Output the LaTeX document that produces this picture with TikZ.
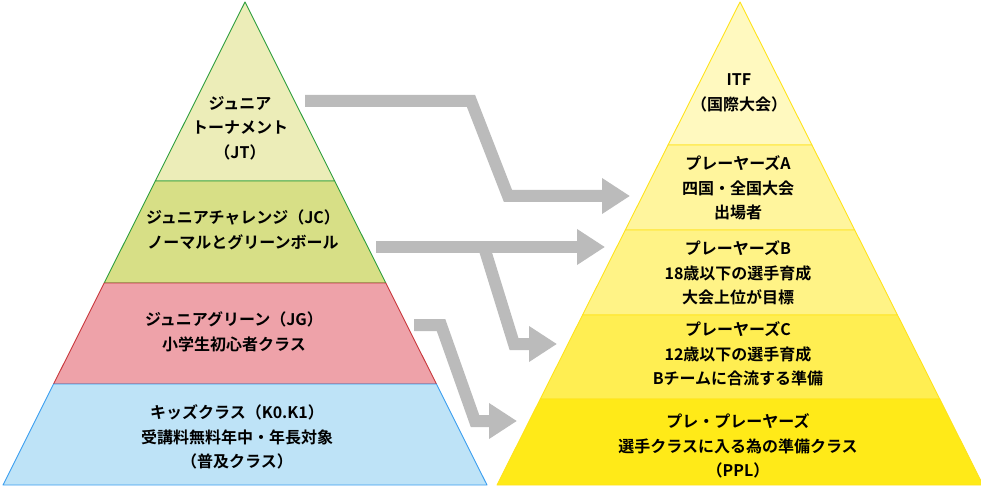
\documentclass[tikz,border=0pt]{standalone}
\usepackage{fontspec}
\usetikzlibrary{arrows.meta,calc}
\newfontfamily\jpfont{Noto Sans CJK JP Bold}
\definecolor{jtfill}{HTML}{ECEDB8}
\definecolor{jcfill}{HTML}{D7DF86}
\definecolor{jgfill}{HTML}{EEA2A9}
\definecolor{kdfill}{HTML}{BEE3F7}
\definecolor{grline}{HTML}{2E9E3E}
\definecolor{rdline}{HTML}{C8383C}
\definecolor{blline}{HTML}{3A9EF0}
\definecolor{itffill}{HTML}{FFF9BF}
\definecolor{pafill}{HTML}{FFF59D}
\definecolor{pbfill}{HTML}{FFF386}
\definecolor{pcfill}{HTML}{FFEE52}
\definecolor{pplfill}{HTML}{FFEA18}
\definecolor{ylline}{HTML}{FFE31A}
\definecolor{flowgray}{HTML}{BBBBBB}

\begin{document}
\begin{tikzpicture}[x=1pt, y=-1pt,
    layer/.style={line width=0.9pt, line join=round},
    lbl/.style={font=\jpfont\fontsize{16}{24.5}\selectfont, align=center, inner sep=0pt},
    flow/.style={draw=flowgray, line width=12pt, -{Triangle[length=28pt,width=34pt]}}]
    \useasboundingbox (0,0) rectangle (981,486);

    % left pyramid
    \coordinate (la) at (245,2);
    \coordinate (ll) at (3,485);
    \coordinate (lr) at (487,485);
    \draw[layer, draw=grline, fill=jtfill] (la) -- ($(la)!0.3706!(ll)$) -- ($(la)!0.3706!(lr)$) -- cycle;
    \draw[layer, draw=grline, fill=jcfill] ($(la)!0.3706!(ll)$) -- ($(la)!0.5818!(ll)$) -- ($(la)!0.5818!(lr)$) -- ($(la)!0.3706!(lr)$) -- cycle;
    \draw[layer, draw=rdline, fill=jgfill] ($(la)!0.5818!(ll)$) -- ($(la)!0.7909!(ll)$) -- ($(la)!0.7909!(lr)$) -- ($(la)!0.5818!(lr)$) -- cycle;
    \draw[layer, draw=blline, fill=kdfill] ($(la)!0.7909!(ll)$) -- (ll) -- (lr) -- ($(la)!0.7909!(lr)$) -- cycle;

    % right pyramid
    \coordinate (ra) at (740,2);
    \coordinate (rl) at (497,485);
    \coordinate (rr) at (983,485);
    \draw[layer, draw=ylline, fill=itffill] (ra) -- ($(ra)!0.296!(rl)$) -- ($(ra)!0.296!(rr)$) -- cycle;
    \draw[layer, draw=ylline, fill=pafill] ($(ra)!0.296!(rl)$) -- ($(ra)!0.472!(rl)$) -- ($(ra)!0.472!(rr)$) -- ($(ra)!0.296!(rr)$) -- cycle;
    \draw[layer, draw=ylline, fill=pbfill] ($(ra)!0.472!(rl)$) -- ($(ra)!0.648!(rl)$) -- ($(ra)!0.648!(rr)$) -- ($(ra)!0.472!(rr)$) -- cycle;
    \draw[layer, draw=ylline, fill=pcfill] ($(ra)!0.648!(rl)$) -- ($(ra)!0.822!(rl)$) -- ($(ra)!0.822!(rr)$) -- ($(ra)!0.648!(rr)$) -- cycle;
    \draw[layer, draw=ylline, fill=pplfill] ($(ra)!0.822!(rl)$) -- (rl) -- (rr) -- ($(ra)!0.822!(rr)$) -- cycle;

    % labels
    \node[lbl] (jt) at (240,128) {ジュニア\\トーナメント\\（JT）};
    \node[lbl] (jc) at (243,230) {ジュニアチャレンジ（JC）\\ノーマルとグリーンボール};
    \node[lbl] (jg) at (234,332) {ジュニアグリーン（JG）\\小学生初心者クラス};
    \node[lbl] (kids) at (237,437) {キッズクラス（K0.K1）\\受講料無料年中・年長対象\\（普及クラス）};
    \node[lbl] (itf) at (739,93) {ITF\\（国際大会）};
    \node[lbl] (pa) at (738,188) {プレーヤーズA\\四国・全国大会\\出場者};
    \node[lbl] (pb) at (738,273) {プレーヤーズB\\18歳以下の選手育成\\大会上位が目標};
    \node[lbl] (pc) at (738,354) {プレーヤーズC\\12歳以下の選手育成\\Bチームに合流する準備};
    \node[lbl] (ppl) at (738,446) {プレ・プレーヤーズ\\選手クラスに入る為の準備クラス\\（PPL）};

    % arrow ends
    \coordinate (jt-out) at (305,101);
    \coordinate (pa-in) at (630,196);
    \coordinate (jc-out) at (376,247);
    \coordinate (pb-in) at (605,247);
    \coordinate (jc-split) at (484,247);
    \coordinate (pc-in) at (557,344);
    \coordinate (jg-out) at (414,325);
    \coordinate (ppl-in) at (517,421);

    \draw[flow] (jt-out) -- (471,101) -- (508,196) -- (pa-in);
    \draw[flow] (jc-out) -- (pb-in);
    \draw[flow] (jc-split) -- (514,344) -- (pc-in);
    \draw[flow] (jg-out) -- (441,325) -- (475,421) -- (ppl-in);
\end{tikzpicture}
\end{document}
